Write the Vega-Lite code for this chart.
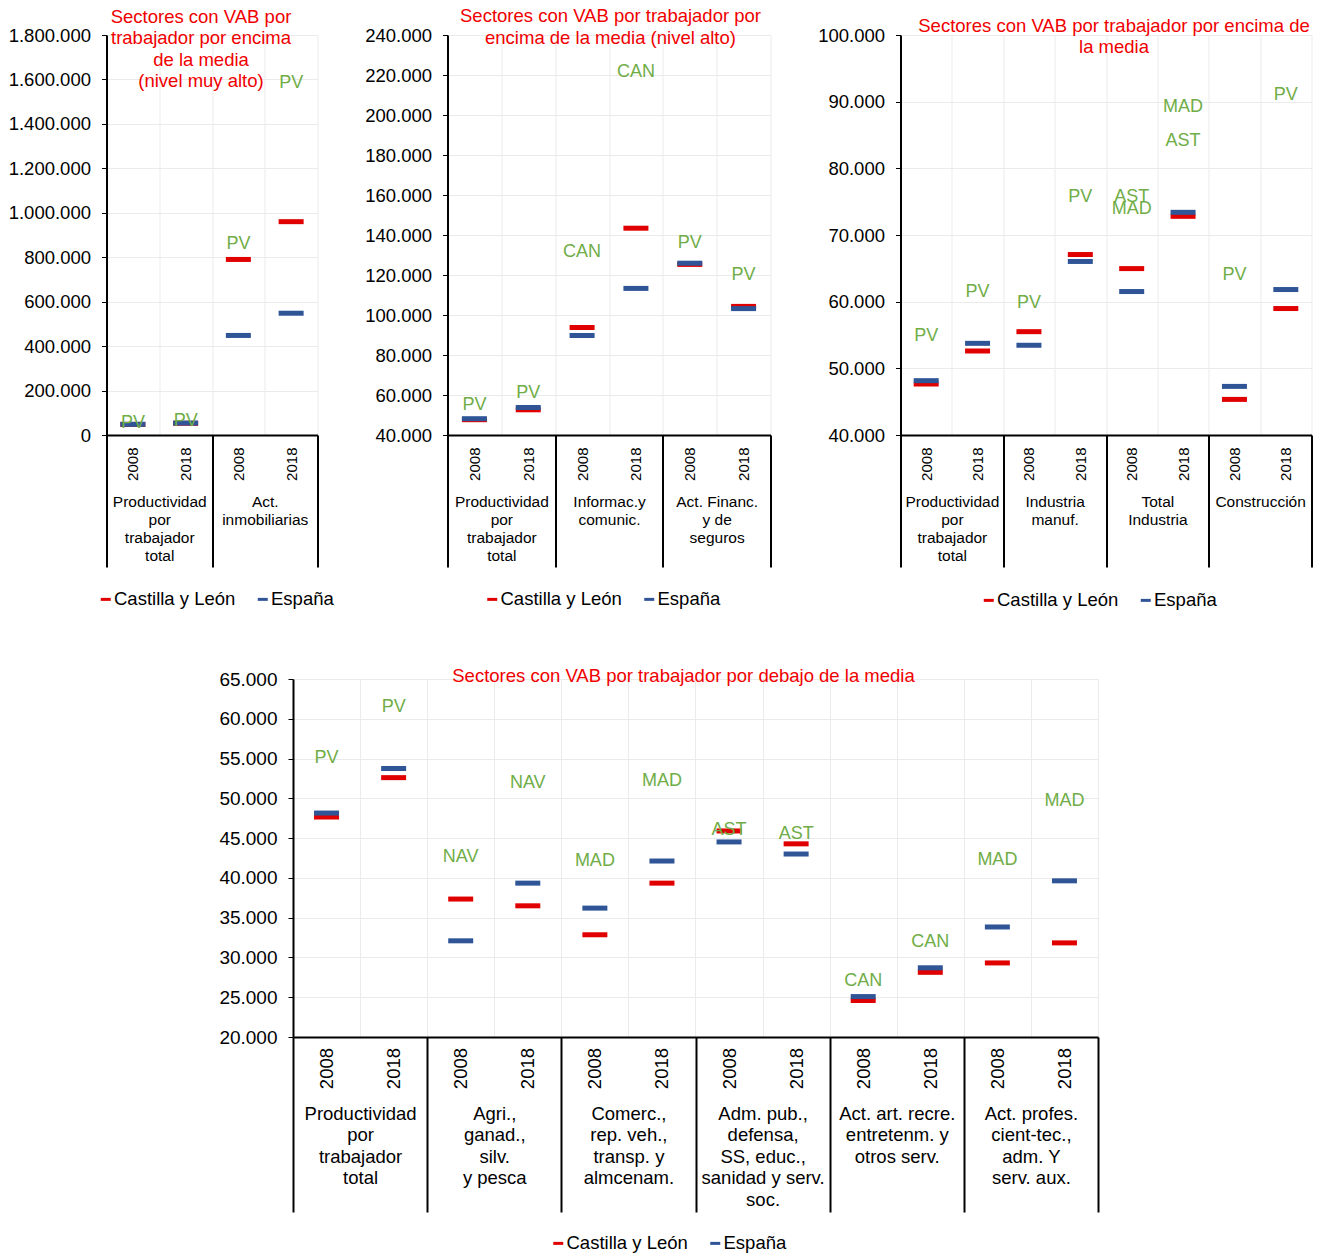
{
  "$schema": "https://vega.github.io/schema/vega-lite/v6.json",
  "background": "white",
  "padding": {"left": 7.5, "top": 6, "right": 5, "bottom": 5},
  "config": {
    "font": "Liberation Sans",
    "view": {"stroke": null},
    "locale": {"number": {"decimal": ",", "thousands": ".", "grouping": [3], "currency": ["", " €"]}},
    "axis": {"labelColor": "#000000", "labelFont": "Liberation Sans"},
    "legend": {"labelFont": "Liberation Sans"}
  },
  "datasets": {
    "p1_valores": [
      {"sector": "Productividad|por|trabajador|total", "anio": "2008", "clave": "Productividad|por|trabajador|total#2008", "serie": "Castilla y León", "valor": 47650},
      {"sector": "Productividad|por|trabajador|total", "anio": "2018", "clave": "Productividad|por|trabajador|total#2018", "serie": "Castilla y León", "valor": 52600},
      {"sector": "Act.|inmobiliarias", "anio": "2008", "clave": "Act.|inmobiliarias#2008", "serie": "Castilla y León", "valor": 790000},
      {"sector": "Act.|inmobiliarias", "anio": "2018", "clave": "Act.|inmobiliarias#2018", "serie": "Castilla y León", "valor": 960000},
      {"sector": "Productividad|por|trabajador|total", "anio": "2008", "clave": "Productividad|por|trabajador|total#2008", "serie": "España", "valor": 48150},
      {"sector": "Productividad|por|trabajador|total", "anio": "2018", "clave": "Productividad|por|trabajador|total#2018", "serie": "España", "valor": 53750},
      {"sector": "Act.|inmobiliarias", "anio": "2008", "clave": "Act.|inmobiliarias#2008", "serie": "España", "valor": 448000},
      {"sector": "Act.|inmobiliarias", "anio": "2018", "clave": "Act.|inmobiliarias#2018", "serie": "España", "valor": 548000}
    ],
    "p1_etiquetas": [
      {"sector": "Productividad|por|trabajador|total", "anio": "2008", "region": "PV", "valor": 56000},
      {"sector": "Productividad|por|trabajador|total", "anio": "2018", "region": "PV", "valor": 65000},
      {"sector": "Act.|inmobiliarias", "anio": "2008", "region": "PV", "valor": 858000},
      {"sector": "Act.|inmobiliarias", "anio": "2018", "region": "PV", "valor": 1585000}
    ],
    "p2_valores": [
      {"sector": "Productividad|por|trabajador|total", "anio": "2008", "clave": "Productividad|por|trabajador|total#2008", "serie": "Castilla y León", "valor": 47650},
      {"sector": "Productividad|por|trabajador|total", "anio": "2018", "clave": "Productividad|por|trabajador|total#2018", "serie": "Castilla y León", "valor": 52600},
      {"sector": "Informac.y|comunic.", "anio": "2008", "clave": "Informac.y|comunic.#2008", "serie": "Castilla y León", "valor": 93800},
      {"sector": "Informac.y|comunic.", "anio": "2018", "clave": "Informac.y|comunic.#2018", "serie": "Castilla y León", "valor": 143400},
      {"sector": "Act. Financ.|y de|seguros", "anio": "2008", "clave": "Act. Financ.|y de|seguros#2008", "serie": "Castilla y León", "valor": 125300},
      {"sector": "Act. Financ.|y de|seguros", "anio": "2018", "clave": "Act. Financ.|y de|seguros#2018", "serie": "Castilla y León", "valor": 104300},
      {"sector": "Productividad|por|trabajador|total", "anio": "2008", "clave": "Productividad|por|trabajador|total#2008", "serie": "España", "valor": 48150},
      {"sector": "Productividad|por|trabajador|total", "anio": "2018", "clave": "Productividad|por|trabajador|total#2018", "serie": "España", "valor": 53750},
      {"sector": "Informac.y|comunic.", "anio": "2008", "clave": "Informac.y|comunic.#2008", "serie": "España", "valor": 89800},
      {"sector": "Informac.y|comunic.", "anio": "2018", "clave": "Informac.y|comunic.#2018", "serie": "España", "valor": 113300},
      {"sector": "Act. Financ.|y de|seguros", "anio": "2008", "clave": "Act. Financ.|y de|seguros#2008", "serie": "España", "valor": 125900},
      {"sector": "Act. Financ.|y de|seguros", "anio": "2018", "clave": "Act. Financ.|y de|seguros#2018", "serie": "España", "valor": 103200}
    ],
    "p2_etiquetas": [
      {"sector": "Productividad|por|trabajador|total", "anio": "2008", "region": "PV", "valor": 54800},
      {"sector": "Productividad|por|trabajador|total", "anio": "2018", "region": "PV", "valor": 61200},
      {"sector": "Informac.y|comunic.", "anio": "2008", "region": "CAN", "valor": 131400},
      {"sector": "Informac.y|comunic.", "anio": "2018", "region": "CAN", "valor": 221300},
      {"sector": "Act. Financ.|y de|seguros", "anio": "2008", "region": "PV", "valor": 136100},
      {"sector": "Act. Financ.|y de|seguros", "anio": "2018", "region": "PV", "valor": 119800}
    ],
    "p3_valores": [
      {"sector": "Productividad|por|trabajador|total", "anio": "2008", "clave": "Productividad|por|trabajador|total#2008", "serie": "Castilla y León", "valor": 47650},
      {"sector": "Productividad|por|trabajador|total", "anio": "2018", "clave": "Productividad|por|trabajador|total#2018", "serie": "Castilla y León", "valor": 52600},
      {"sector": "Industria|manuf.", "anio": "2008", "clave": "Industria|manuf.#2008", "serie": "Castilla y León", "valor": 55500},
      {"sector": "Industria|manuf.", "anio": "2018", "clave": "Industria|manuf.#2018", "serie": "Castilla y León", "valor": 67070},
      {"sector": "Total|Industria", "anio": "2008", "clave": "Total|Industria#2008", "serie": "Castilla y León", "valor": 64960},
      {"sector": "Total|Industria", "anio": "2018", "clave": "Total|Industria#2018", "serie": "Castilla y León", "valor": 72800},
      {"sector": "Construcción", "anio": "2008", "clave": "Construcción#2008", "serie": "Castilla y León", "valor": 45340},
      {"sector": "Construcción", "anio": "2018", "clave": "Construcción#2018", "serie": "Castilla y León", "valor": 58970},
      {"sector": "Productividad|por|trabajador|total", "anio": "2008", "clave": "Productividad|por|trabajador|total#2008", "serie": "España", "valor": 48150},
      {"sector": "Productividad|por|trabajador|total", "anio": "2018", "clave": "Productividad|por|trabajador|total#2018", "serie": "España", "valor": 53750},
      {"sector": "Industria|manuf.", "anio": "2008", "clave": "Industria|manuf.#2008", "serie": "España", "valor": 53460},
      {"sector": "Industria|manuf.", "anio": "2018", "clave": "Industria|manuf.#2018", "serie": "España", "valor": 66030},
      {"sector": "Total|Industria", "anio": "2008", "clave": "Total|Industria#2008", "serie": "España", "valor": 61520},
      {"sector": "Total|Industria", "anio": "2018", "clave": "Total|Industria#2018", "serie": "España", "valor": 73400},
      {"sector": "Construcción", "anio": "2008", "clave": "Construcción#2008", "serie": "España", "valor": 47290},
      {"sector": "Construcción", "anio": "2018", "clave": "Construcción#2018", "serie": "España", "valor": 61820}
    ],
    "p3_etiquetas": [
      {"sector": "Productividad|por|trabajador|total", "anio": "2008", "region": "PV", "valor": 54880},
      {"sector": "Productividad|por|trabajador|total", "anio": "2018", "region": "PV", "valor": 61400},
      {"sector": "Industria|manuf.", "anio": "2008", "region": "PV", "valor": 59740},
      {"sector": "Industria|manuf.", "anio": "2018", "region": "PV", "valor": 75630},
      {"sector": "Total|Industria", "anio": "2008", "region": "AST", "valor": 75630},
      {"sector": "Total|Industria", "anio": "2008", "region": "MAD", "valor": 73970},
      {"sector": "Total|Industria", "anio": "2018", "region": "MAD", "valor": 89270},
      {"sector": "Total|Industria", "anio": "2018", "region": "AST", "valor": 84050},
      {"sector": "Construcción", "anio": "2008", "region": "PV", "valor": 64070},
      {"sector": "Construcción", "anio": "2018", "region": "PV", "valor": 90930}
    ],
    "p4_valores": [
      {"sector": "Productividad|por|trabajador|total", "anio": "2008", "clave": "Productividad|por|trabajador|total#2008", "serie": "Castilla y León", "valor": 47650},
      {"sector": "Productividad|por|trabajador|total", "anio": "2018", "clave": "Productividad|por|trabajador|total#2018", "serie": "Castilla y León", "valor": 52600},
      {"sector": "Agri.,|ganad.,|silv.|y pesca", "anio": "2008", "clave": "Agri.,|ganad.,|silv.|y pesca#2008", "serie": "Castilla y León", "valor": 37340},
      {"sector": "Agri.,|ganad.,|silv.|y pesca", "anio": "2018", "clave": "Agri.,|ganad.,|silv.|y pesca#2018", "serie": "Castilla y León", "valor": 36490},
      {"sector": "Comerc.,|rep. veh.,|transp. y|almcenam.", "anio": "2008", "clave": "Comerc.,|rep. veh.,|transp. y|almcenam.#2008", "serie": "Castilla y León", "valor": 32850},
      {"sector": "Comerc.,|rep. veh.,|transp. y|almcenam.", "anio": "2018", "clave": "Comerc.,|rep. veh.,|transp. y|almcenam.#2018", "serie": "Castilla y León", "valor": 39340},
      {"sector": "Adm. pub.,|defensa,|SS, educ.,|sanidad y serv.|soc.", "anio": "2008", "clave": "Adm. pub.,|defensa,|SS, educ.,|sanidad y serv.|soc.#2008", "serie": "Castilla y León", "valor": 45900},
      {"sector": "Adm. pub.,|defensa,|SS, educ.,|sanidad y serv.|soc.", "anio": "2018", "clave": "Adm. pub.,|defensa,|SS, educ.,|sanidad y serv.|soc.#2018", "serie": "Castilla y León", "valor": 44280},
      {"sector": "Act. art. recre.|entretenm. y|otros serv.", "anio": "2008", "clave": "Act. art. recre.|entretenm. y|otros serv.#2008", "serie": "Castilla y León", "valor": 24590},
      {"sector": "Act. art. recre.|entretenm. y|otros serv.", "anio": "2018", "clave": "Act. art. recre.|entretenm. y|otros serv.#2018", "serie": "Castilla y León", "valor": 28130},
      {"sector": "Act. profes.|cient-tec.,|adm. Y|serv. aux.", "anio": "2008", "clave": "Act. profes.|cient-tec.,|adm. Y|serv. aux.#2008", "serie": "Castilla y León", "valor": 29310},
      {"sector": "Act. profes.|cient-tec.,|adm. Y|serv. aux.", "anio": "2018", "clave": "Act. profes.|cient-tec.,|adm. Y|serv. aux.#2018", "serie": "Castilla y León", "valor": 31830},
      {"sector": "Productividad|por|trabajador|total", "anio": "2008", "clave": "Productividad|por|trabajador|total#2008", "serie": "España", "valor": 48150},
      {"sector": "Productividad|por|trabajador|total", "anio": "2018", "clave": "Productividad|por|trabajador|total#2018", "serie": "España", "valor": 53750},
      {"sector": "Agri.,|ganad.,|silv.|y pesca", "anio": "2008", "clave": "Agri.,|ganad.,|silv.|y pesca#2008", "serie": "España", "valor": 32090},
      {"sector": "Agri.,|ganad.,|silv.|y pesca", "anio": "2018", "clave": "Agri.,|ganad.,|silv.|y pesca#2018", "serie": "España", "valor": 39340},
      {"sector": "Comerc.,|rep. veh.,|transp. y|almcenam.", "anio": "2008", "clave": "Comerc.,|rep. veh.,|transp. y|almcenam.#2008", "serie": "España", "valor": 36200},
      {"sector": "Comerc.,|rep. veh.,|transp. y|almcenam.", "anio": "2018", "clave": "Comerc.,|rep. veh.,|transp. y|almcenam.#2018", "serie": "España", "valor": 42120},
      {"sector": "Adm. pub.,|defensa,|SS, educ.,|sanidad y serv.|soc.", "anio": "2008", "clave": "Adm. pub.,|defensa,|SS, educ.,|sanidad y serv.|soc.#2008", "serie": "España", "valor": 44520},
      {"sector": "Adm. pub.,|defensa,|SS, educ.,|sanidad y serv.|soc.", "anio": "2018", "clave": "Adm. pub.,|defensa,|SS, educ.,|sanidad y serv.|soc.#2018", "serie": "España", "valor": 43000},
      {"sector": "Act. art. recre.|entretenm. y|otros serv.", "anio": "2008", "clave": "Act. art. recre.|entretenm. y|otros serv.#2008", "serie": "España", "valor": 25080},
      {"sector": "Act. art. recre.|entretenm. y|otros serv.", "anio": "2018", "clave": "Act. art. recre.|entretenm. y|otros serv.#2018", "serie": "España", "valor": 28700},
      {"sector": "Act. profes.|cient-tec.,|adm. Y|serv. aux.", "anio": "2008", "clave": "Act. profes.|cient-tec.,|adm. Y|serv. aux.#2008", "serie": "España", "valor": 33830},
      {"sector": "Act. profes.|cient-tec.,|adm. Y|serv. aux.", "anio": "2018", "clave": "Act. profes.|cient-tec.,|adm. Y|serv. aux.#2018", "serie": "España", "valor": 39630}
    ],
    "p4_etiquetas": [
      {"sector": "Productividad|por|trabajador|total", "anio": "2008", "region": "PV", "valor": 55020},
      {"sector": "Productividad|por|trabajador|total", "anio": "2018", "region": "PV", "valor": 61440},
      {"sector": "Agri.,|ganad.,|silv.|y pesca", "anio": "2008", "region": "NAV", "valor": 42570},
      {"sector": "Agri.,|ganad.,|silv.|y pesca", "anio": "2018", "region": "NAV", "valor": 51930},
      {"sector": "Comerc.,|rep. veh.,|transp. y|almcenam.", "anio": "2008", "region": "MAD", "valor": 42090},
      {"sector": "Comerc.,|rep. veh.,|transp. y|almcenam.", "anio": "2018", "region": "MAD", "valor": 52170},
      {"sector": "Adm. pub.,|defensa,|SS, educ.,|sanidad y serv.|soc.", "anio": "2008", "region": "AST", "valor": 45990},
      {"sector": "Adm. pub.,|defensa,|SS, educ.,|sanidad y serv.|soc.", "anio": "2018", "region": "AST", "valor": 45520},
      {"sector": "Act. art. recre.|entretenm. y|otros serv.", "anio": "2008", "region": "CAN", "valor": 27080},
      {"sector": "Act. art. recre.|entretenm. y|otros serv.", "anio": "2018", "region": "CAN", "valor": 31980},
      {"sector": "Act. profes.|cient-tec.,|adm. Y|serv. aux.", "anio": "2008", "region": "MAD", "valor": 42290},
      {"sector": "Act. profes.|cient-tec.,|adm. Y|serv. aux.", "anio": "2018", "region": "MAD", "valor": 49650}
    ]
  },
  "spacing": 57,
  "bounds": "full",
  "center": true,
  "resolve": {"scale": {"color": "independent", "xOffset": "independent"}, "legend": {"color": "independent"}},
  "vconcat": [
    {
      "spacing": 130,
      "bounds": "flush",
      "resolve": {"scale": {"color": "independent", "xOffset": "independent"}, "legend": {"color": "independent"}},
      "hconcat": [
        {
          "width": 211,
          "height": 400,
          "title": {"text": ["Sectores con VAB por", "trabajador por encima", "de la media", "(nivel muy alto)"], "anchor": "middle", "frame": "group", "baseline": "top", "offset": -65, "dx": -11, "lineHeight": 21.6, "fontSize": 18.5, "fontWeight": "normal", "color": "#F00000"},
          "encoding": {
            "y": {"field": "valor", "type": "quantitative", "scale": {"domain": [0, 1800000], "nice": false, "zero": false},
              "axis": {"title": null, "values": [0, 200000, 400000, 600000, 800000, 1000000, 1200000, 1400000, 1600000, 1800000], "format": ",.0f", "tickSize": 5, "tickColor": "#000000", "domainColor": "#000000", "domainWidth": 2, "labelFontSize": 18.5, "labelPadding": 11, "grid": true, "gridColor": "#EBEBEB"}}
          },
          "layer": [
            {
              "data": {"name": "p1_valores"},
              "mark": {"type": "tick", "size": 25, "thickness": 5, "opacity": 1},
              "encoding": {
                "x": {"field": "clave", "type": "nominal", "sort": null, "scale": {"paddingInner": 0, "paddingOuter": 0},
                  "axis": {"title": null, "orient": "bottom", "labelExpr": "slice(datum.label, -4)", "labelAngle": -90, "labelAlign": "right", "labelBaseline": "middle", "labelFontSize": 15, "labelPadding": 12, "ticks": false, "domain": false, "grid": true, "gridColor": "#EBEBEB", "tickBand": "extent", "labelOverlap": false}},
                "color": {"field": "serie", "type": "nominal", "scale": {"domain": ["Castilla y León", "España"], "range": ["#E00000", "#2F5597"]},
                  "legend": {"orient": "none", "legendX": -10, "legendY": 555, "direction": "horizontal", "title": null, "symbolType": "M-1,-0.3H1V0.3H-1Z", "symbolSize": 100, "symbolStrokeWidth": 0, "symbolOpacity": 1, "labelFontSize": 18.5, "labelColor": "#000000", "labelOffset": -1, "columnPadding": 18, "padding": 0}}
              }
            },
            {
              "data": {"name": "p1_etiquetas"},
              "mark": {"type": "text", "color": "#70AD47", "fontSize": 18, "baseline": "middle", "align": "center"},
              "encoding": {
                "x": {"field": "sector", "type": "nominal", "sort": null, "scale": {"paddingInner": 0, "paddingOuter": 0},
                  "axis": {"title": null, "orient": "bottom", "labelExpr": "split(datum.label, '|')", "labelAngle": 0, "labelAlign": "center", "labelBaseline": "top", "labelFontSize": 15.5, "labelLineHeight": 18.3, "labelPadding": -73, "tickSize": 132, "tickWidth": 2, "tickColor": "#000000", "tickBand": "extent", "domain": true, "domainColor": "#000000", "domainWidth": 2, "grid": false, "labelOverlap": false, "labelLimit": 0}},
                "xOffset": {"field": "anio", "type": "nominal", "scale": {"type": "point", "padding": 0.5}},
                "text": {"field": "region"}
              }
            }
          ],
          "resolve": {"scale": {"x": "independent"}, "axis": {"x": "independent"}}
        },
        {
          "width": 323,
          "height": 400,
          "title": {"text": ["Sectores con VAB por trabajador por", "encima de la media (nivel alto)"], "anchor": "middle", "frame": "group", "baseline": "top", "offset": -21, "dx": 1.5, "lineHeight": 22, "fontSize": 18.5, "fontWeight": "normal", "color": "#F00000"},
          "encoding": {
            "y": {"field": "valor", "type": "quantitative", "scale": {"domain": [40000, 240000], "nice": false, "zero": false},
              "axis": {"title": null, "values": [40000, 60000, 80000, 100000, 120000, 140000, 160000, 180000, 200000, 220000, 240000], "format": ",.0f", "tickSize": 5, "tickColor": "#000000", "domainColor": "#000000", "domainWidth": 2, "labelFontSize": 18.5, "labelPadding": 11, "grid": true, "gridColor": "#EBEBEB"}}
          },
          "layer": [
            {
              "data": {"name": "p2_valores"},
              "mark": {"type": "tick", "size": 25, "thickness": 5, "opacity": 1},
              "encoding": {
                "x": {"field": "clave", "type": "nominal", "sort": null, "scale": {"paddingInner": 0, "paddingOuter": 0},
                  "axis": {"title": null, "orient": "bottom", "labelExpr": "slice(datum.label, -4)", "labelAngle": -90, "labelAlign": "right", "labelBaseline": "middle", "labelFontSize": 15, "labelPadding": 12, "ticks": false, "domain": false, "grid": true, "gridColor": "#EBEBEB", "tickBand": "extent", "labelOverlap": false}},
                "color": {"field": "serie", "type": "nominal", "scale": {"domain": ["Castilla y León", "España"], "range": ["#E00000", "#2F5597"]},
                  "legend": {"orient": "none", "legendX": 35.5, "legendY": 555, "direction": "horizontal", "title": null, "symbolType": "M-1,-0.3H1V0.3H-1Z", "symbolSize": 100, "symbolStrokeWidth": 0, "symbolOpacity": 1, "labelFontSize": 18.5, "labelColor": "#000000", "labelOffset": -1, "columnPadding": 18, "padding": 0}}
              }
            },
            {
              "data": {"name": "p2_etiquetas"},
              "mark": {"type": "text", "color": "#70AD47", "fontSize": 18, "baseline": "middle", "align": "center"},
              "encoding": {
                "x": {"field": "sector", "type": "nominal", "sort": null, "scale": {"paddingInner": 0, "paddingOuter": 0},
                  "axis": {"title": null, "orient": "bottom", "labelExpr": "split(datum.label, '|')", "labelAngle": 0, "labelAlign": "center", "labelBaseline": "top", "labelFontSize": 15.5, "labelLineHeight": 18.3, "labelPadding": -73, "tickSize": 132, "tickWidth": 2, "tickColor": "#000000", "tickBand": "extent", "domain": true, "domainColor": "#000000", "domainWidth": 2, "grid": false, "labelOverlap": false, "labelLimit": 0}},
                "xOffset": {"field": "anio", "type": "nominal", "scale": {"type": "point", "padding": 0.5}},
                "text": {"field": "region"}
              }
            }
          ],
          "resolve": {"scale": {"x": "independent"}, "axis": {"x": "independent"}}
        },
        {
          "width": 411,
          "height": 400,
          "title": {"text": ["Sectores con VAB por trabajador por encima de", "la media"], "anchor": "middle", "frame": "group", "baseline": "top", "offset": -30, "dx": 8, "lineHeight": 21, "fontSize": 18.5, "fontWeight": "normal", "color": "#F00000"},
          "encoding": {
            "y": {"field": "valor", "type": "quantitative", "scale": {"domain": [40000, 100000], "nice": false, "zero": false},
              "axis": {"title": null, "values": [40000, 50000, 60000, 70000, 80000, 90000, 100000], "format": ",.0f", "tickSize": 5, "tickColor": "#000000", "domainColor": "#000000", "domainWidth": 2, "labelFontSize": 18.5, "labelPadding": 11, "grid": true, "gridColor": "#EBEBEB"}}
          },
          "layer": [
            {
              "data": {"name": "p3_valores"},
              "mark": {"type": "tick", "size": 25, "thickness": 5, "opacity": 1},
              "encoding": {
                "x": {"field": "clave", "type": "nominal", "sort": null, "scale": {"paddingInner": 0, "paddingOuter": 0},
                  "axis": {"title": null, "orient": "bottom", "labelExpr": "slice(datum.label, -4)", "labelAngle": -90, "labelAlign": "right", "labelBaseline": "middle", "labelFontSize": 15, "labelPadding": 12, "ticks": false, "domain": false, "grid": true, "gridColor": "#EBEBEB", "tickBand": "extent", "labelOverlap": false}},
                "color": {"field": "serie", "type": "nominal", "scale": {"domain": ["Castilla y León", "España"], "range": ["#E00000", "#2F5597"]},
                  "legend": {"orient": "none", "legendX": 79, "legendY": 556, "direction": "horizontal", "title": null, "symbolType": "M-1,-0.3H1V0.3H-1Z", "symbolSize": 100, "symbolStrokeWidth": 0, "symbolOpacity": 1, "labelFontSize": 18.5, "labelColor": "#000000", "labelOffset": -1, "columnPadding": 18, "padding": 0}}
              }
            },
            {
              "data": {"name": "p3_etiquetas"},
              "mark": {"type": "text", "color": "#70AD47", "fontSize": 18, "baseline": "middle", "align": "center"},
              "encoding": {
                "x": {"field": "sector", "type": "nominal", "sort": null, "scale": {"paddingInner": 0, "paddingOuter": 0},
                  "axis": {"title": null, "orient": "bottom", "labelExpr": "split(datum.label, '|')", "labelAngle": 0, "labelAlign": "center", "labelBaseline": "top", "labelFontSize": 15.5, "labelLineHeight": 18.3, "labelPadding": -73, "tickSize": 132, "tickWidth": 2, "tickColor": "#000000", "tickBand": "extent", "domain": true, "domainColor": "#000000", "domainWidth": 2, "grid": false, "labelOverlap": false, "labelLimit": 0}},
                "xOffset": {"field": "anio", "type": "nominal", "scale": {"type": "point", "padding": 0.5}},
                "text": {"field": "region"}
              }
            }
          ],
          "resolve": {"scale": {"x": "independent"}, "axis": {"x": "independent"}}
        }
      ]
    },
    {
      "spacing": 0,
      "bounds": "full",
      "resolve": {"scale": {"xOffset": "independent"}},
      "hconcat": [
        {
          "width": 805,
          "height": 358,
          "title": {"text": ["Sectores con VAB por trabajador por debajo de la media"], "anchor": "middle", "frame": "group", "baseline": "top", "offset": -15.6, "dx": -12, "lineHeight": 21.5, "fontSize": 18.5, "fontWeight": "normal", "color": "#F00000"},
          "encoding": {
            "y": {"field": "valor", "type": "quantitative", "scale": {"domain": [20000, 65000], "nice": false, "zero": false},
              "axis": {"title": null, "values": [20000, 25000, 30000, 35000, 40000, 45000, 50000, 55000, 60000, 65000], "format": ",.0f", "tickSize": 5, "tickColor": "#000000", "domainColor": "#000000", "domainWidth": 2, "labelFontSize": 19, "labelPadding": 11, "grid": true, "gridColor": "#EBEBEB"}}
          },
          "layer": [
            {
              "data": {"name": "p4_valores"},
              "mark": {"type": "tick", "size": 25, "thickness": 5, "opacity": 1},
              "encoding": {
                "x": {"field": "clave", "type": "nominal", "sort": null, "scale": {"paddingInner": 0, "paddingOuter": 0},
                  "axis": {"title": null, "orient": "bottom", "labelExpr": "slice(datum.label, -4)", "labelAngle": -90, "labelAlign": "right", "labelBaseline": "middle", "labelFontSize": 18.5, "labelPadding": 10.5, "ticks": false, "domain": false, "grid": true, "gridColor": "#EBEBEB", "tickBand": "extent", "labelOverlap": false}},
                "color": {"field": "serie", "type": "nominal", "scale": {"domain": ["Castilla y León", "España"], "range": ["#E00000", "#2F5597"]},
                  "legend": {"orient": "none", "legendX": 256, "legendY": 555, "direction": "horizontal", "title": null, "symbolType": "M-1,-0.3H1V0.3H-1Z", "symbolSize": 100, "symbolStrokeWidth": 0, "symbolOpacity": 1, "labelFontSize": 18.5, "labelColor": "#000000", "labelOffset": -1, "columnPadding": 18, "padding": 0}}
              }
            },
            {
              "data": {"name": "p4_etiquetas"},
              "mark": {"type": "text", "color": "#70AD47", "fontSize": 18, "baseline": "middle", "align": "center"},
              "encoding": {
                "x": {"field": "sector", "type": "nominal", "sort": null, "scale": {"paddingInner": 0, "paddingOuter": 0},
                  "axis": {"title": null, "orient": "bottom", "labelExpr": "split(datum.label, '|')", "labelAngle": 0, "labelAlign": "center", "labelBaseline": "top", "labelFontSize": 18.5, "labelLineHeight": 21.5, "labelPadding": -108, "tickSize": 175, "tickWidth": 2, "tickColor": "#000000", "tickBand": "extent", "domain": true, "domainColor": "#000000", "domainWidth": 2, "grid": false, "labelOverlap": false, "labelLimit": 0}},
                "xOffset": {"field": "anio", "type": "nominal", "scale": {"type": "point", "padding": 0.5}},
                "text": {"field": "region"}
              }
            }
          ],
          "resolve": {"scale": {"x": "independent"}, "axis": {"x": "independent"}}
        },
        {
          "width": 27,
          "height": 358,
          "data": {"values": []},
          "mark": "point"
        }
      ]
    }
  ]
}
